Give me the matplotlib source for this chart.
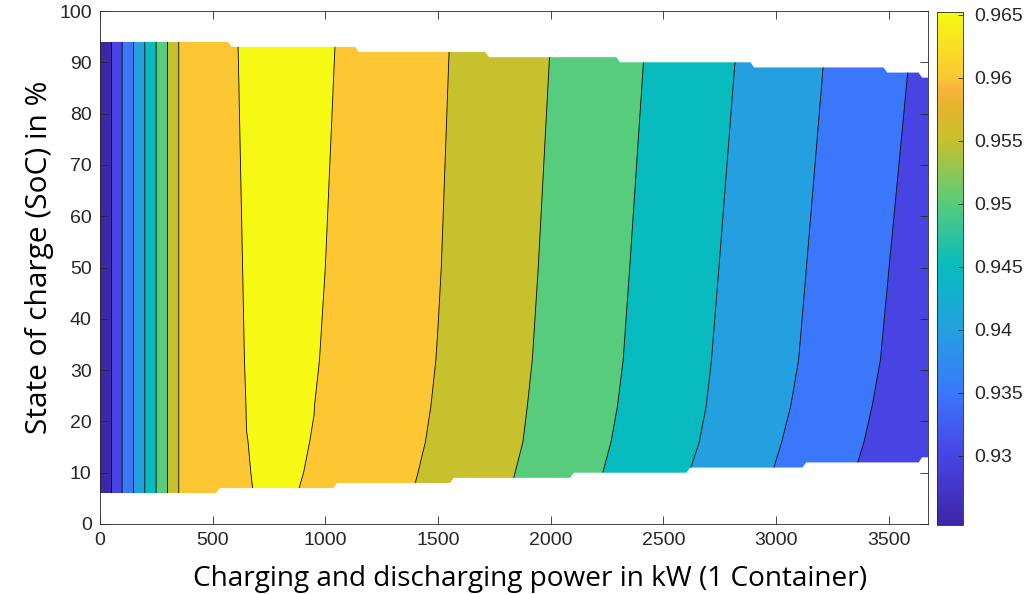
import numpy as np
import matplotlib
matplotlib.use("Agg")
import matplotlib.pyplot as plt
from matplotlib.colors import LinearSegmentedColormap, Normalize
from matplotlib.cm import ScalarMappable
from matplotlib.patches import Polygon

# ---------------------------------------------------------------------------
# Efficiency map of one battery container: round-trip efficiency as a function
# of charging/discharging power (kW) and state of charge (%).
# ---------------------------------------------------------------------------
power_kw = [0, 50, 350, 500, 650, 800, 950, 1100, 1300, 1500, 1700,
            1900, 2100, 2300, 2500, 2700, 2900, 3100, 3300, 3500, 3675]
soc_pct = [6, 10, 16, 23, 32, 50, 94]

eff_soc06 = [0.9245, 0.9302, 0.96005, 0.9632, 0.96495, 0.9652, 0.96481,
             0.96285, 0.96093, 0.95879, 0.95645, 0.95401, 0.95141, 0.94879,
             0.94616, 0.94348, 0.94077, 0.93804, 0.93530, 0.93256, 0.93016]
eff_soc10 = [0.9245, 0.9302, 0.96005, 0.9633, 0.96497, 0.9652, 0.96491,
             0.96310, 0.96117, 0.95907, 0.95672, 0.95430, 0.95170, 0.94911,
             0.94652, 0.94388, 0.94115, 0.93841, 0.93567, 0.93293, 0.93053]
eff_soc16 = [0.9245, 0.9302, 0.96005, 0.9635, 0.96499, 0.9652, 0.96497,
             0.96336, 0.96145, 0.95944, 0.95710, 0.95473, 0.95216, 0.94959,
             0.94706, 0.94448, 0.94172, 0.93898, 0.93624, 0.93351, 0.93112]
eff_soc23 = [0.9245, 0.9302, 0.96005, 0.96352, 0.96502, 0.9652, 0.96501,
             0.96426, 0.96167, 0.95969, 0.95733, 0.95496, 0.95246, 0.94996,
             0.94742, 0.94488, 0.94222, 0.93954, 0.93676, 0.93399, 0.93156]
eff_soc32 = [0.9245, 0.9302, 0.96005, 0.96343, 0.9651, 0.9652, 0.9651,
             0.96448, 0.96185, 0.95991, 0.95757, 0.95523, 0.95277, 0.95028,
             0.94774, 0.94518, 0.94260, 0.94001, 0.93726, 0.93450, 0.93209]
eff_soc50 = [0.9245, 0.9302, 0.96005, 0.96422, 0.9651, 0.9652, 0.9651,
             0.9648, 0.96210, 0.96017, 0.95787, 0.95555, 0.95311, 0.95064,
             0.94813, 0.94560, 0.94305, 0.94048, 0.93777, 0.93503, 0.93263]
eff_soc94 = [0.9245, 0.9302, 0.96005, 0.96470, 0.9651, 0.9652, 0.9651,
             0.96494, 0.96250, 0.96055, 0.95839, 0.95614, 0.95383, 0.95143,
             0.94901, 0.94656, 0.94407, 0.94154, 0.93895, 0.93630, 0.93398]

# Operating window: SoC limits change stepwise with power
top_step_kw = [577, 1141, 1718, 2300, 2895, 3486, 3641]
top_soc = [94, 93, 92, 91, 90, 89, 88, 87]
bottom_step_kw = [523, 1044, 1562, 2095, 2611, 3126, 3641]
bottom_soc = [6, 7, 8, 9, 10, 11, 12, 13]

contour_levels = [0.93, 0.935, 0.94, 0.945, 0.95, 0.955, 0.96, 0.965]
cbar_ticks = [0.93, 0.935, 0.94, 0.945, 0.95, 0.955, 0.96, 0.965]
x_ticks = [0, 500, 1000, 1500, 2000, 2500, 3000, 3500]
y_ticks = [0, 10, 20, 30, 40, 50, 60, 70, 80, 90, 100]

# parula-like colormap
parula = LinearSegmentedColormap.from_list("parula_like", [
    (0.000, "#3e26a8"),
    (0.1351, "#4844e3"),
    (0.2580, "#3a77fb"),
    (0.3808, "#24a0e1"),
    (0.5037, "#08bbbe"),
    (0.6265, "#56cc7c"),
    (0.7494, "#c6c12c"),
    (0.8100, "#e2b52c"),
    (0.8500, "#f9b33d"),
    (0.8722, "#fcc732"),
    (0.9951, "#f5f815"),
    (1.000, "#f9fb0e"),
], N=512)

P = np.array(power_kw, dtype=float)
S = np.array(soc_pct, dtype=float)
Z = np.array([eff_soc06, eff_soc10, eff_soc16, eff_soc23,
              eff_soc32, eff_soc50, eff_soc94])

zmin, zmax = Z.min(), Z.max()
norm = Normalize(vmin=zmin, vmax=zmax)
fill_levels = [zmin] + contour_levels + [zmax + 1e-6]
band_colors = [parula(norm(v)) for v in fill_levels[:-1]]

W, H = 1035, 594
fig = plt.figure(figsize=(W / 100, H / 100), dpi=100)
ax = fig.add_axes([100 / W, 1 - 524 / H, 828 / W, 513 / H])

cf = ax.contourf(P, S, Z, levels=fill_levels, colors=band_colors,
                 antialiased=True)
cl = ax.contour(P, S, Z, levels=contour_levels, colors="k",
                linewidths=0.6)

# clip to the feasible operating window
w = 8
pts = [(0, bottom_soc[0])]
for k, s in enumerate(bottom_step_kw):
    pts.append((s - w, bottom_soc[k]))
    pts.append((s + w, bottom_soc[k + 1]))
pts.append((power_kw[-1], bottom_soc[-1]))
pts.append((power_kw[-1], top_soc[-1]))
for k in range(len(top_step_kw) - 1, -1, -1):
    s = top_step_kw[k]
    pts.append((s + w, top_soc[k + 1]))
    pts.append((s - w, top_soc[k]))
pts.append((0, top_soc[0]))
window = Polygon(pts, closed=True, transform=ax.transData)
cf.set_clip_path(window)
cl.set_clip_path(window)

axis_col = "#262626"
ax.set_xlim(0, power_kw[-1])
ax.set_ylim(0, 100)
ax.set_xticks(x_ticks)
ax.set_yticks(y_ticks)
ax.tick_params(direction="in", length=6, width=0.6, top=True, right=True,
               colors=axis_col, labelsize=14, pad=6)
for lab in ax.get_xticklabels() + ax.get_yticklabels():
    lab.set_fontfamily("Liberation Sans")
for sp in ax.spines.values():
    sp.set_linewidth(0.6)
    sp.set_color(axis_col)

ax.set_xlabel("Charging and discharging power in kW (1 Container)",
              fontfamily="Open Sans", fontsize=20.2, color="black")
ax.set_ylabel("State of charge (SoC) in %",
              fontfamily="Open Sans", fontsize=21.5, color="black")
ax.xaxis.set_label_coords(0.519, -0.1075, transform=ax.transAxes)
ax.yaxis.set_label_coords(-0.0725, 0.519, transform=ax.transAxes)
ax.xaxis.label.set_va("center")
ax.yaxis.label.set_va("center")

cax = fig.add_axes([937 / W, 1 - 525 / H, 26 / W, 513 / H])
sm = ScalarMappable(norm=norm, cmap=parula)
cb = fig.colorbar(sm, cax=cax)
cb.set_ticks(cbar_ticks)
cb.set_ticklabels([f"{t:g}" for t in cbar_ticks])
cb.outline.set_linewidth(0.6)
cb.outline.set_edgecolor(axis_col)
cax.tick_params(direction="in", length=3.5, width=0.6, colors=axis_col,
                labelsize=14, pad=8)
for lab in cax.get_yticklabels():
    lab.set_fontfamily("Liberation Sans")

fig.savefig("out.png", dpi=100)
